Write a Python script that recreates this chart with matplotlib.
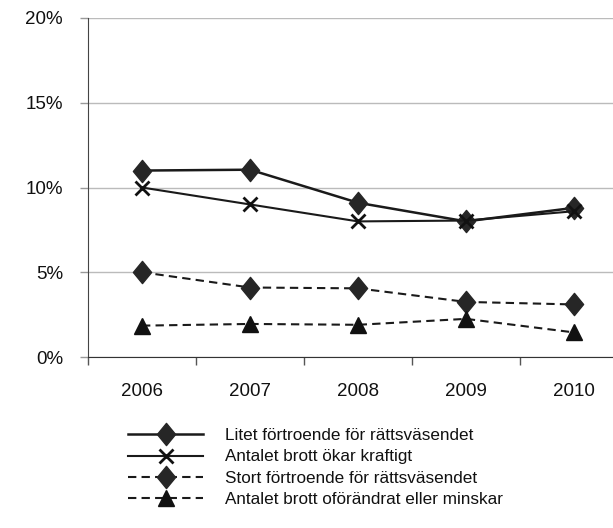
import numpy as np
import matplotlib.pyplot as plt
from matplotlib.path import Path
from matplotlib.ticker import FuncFormatter

years = ['2006', '2007', '2008', '2009', '2010']
litet = [11.0, 11.05, 9.1, 8.0, 8.8]
okar = [10.0, 9.0, 8.0, 8.05, 8.6]
stort = [5.0, 4.1, 4.05, 3.25, 3.1]
oforandrat = [1.85, 1.95, 1.9, 2.25, 1.45]
labels = ['Litet förtroende för rättsväsendet',
          'Antalet brott ökar kraftigt',
          'Stort förtroende för rättsväsendet',
          'Antalet brott oförändrat eller minskar']

plt.rcParams['font.family'] = ['Liberation Sans', 'DejaVu Sans']

# slightly tall diamond like the original
diamond = Path([(0, 1), (0.82, 0), (0, -1), (-0.82, 0), (0, 1)],
               [Path.MOVETO, Path.LINETO, Path.LINETO, Path.LINETO, Path.CLOSEPOLY])

fig = plt.figure(figsize=(6.13, 5.28), dpi=100)
ax = fig.add_axes([88/613, 1-357/528, 540/613, 339/528])

x = np.arange(len(years))
line_col = '#1a1a1a'
mark_col = '#262626'
dash = (0, (4, 2.5))

ax.plot(x, litet, color=line_col, lw=1.8, marker=diamond, ms=16, mfc=mark_col, mec=mark_col, label=labels[0])
ax.plot(x, okar, color=line_col, lw=1.5, marker='x', ms=9.5, mew=2, mec='#111111', label=labels[1])
ax.plot(x, stort, color=line_col, lw=1.5, ls=dash, marker=diamond, ms=16, mfc=mark_col, mec=mark_col, label=labels[2])
ax.plot(x, oforandrat, color=line_col, lw=1.5, ls=dash, marker='^', ms=11, mfc='#111111', mec='#111111', label=labels[3])

ax.set_xlim(-0.5, 4.5)
ax.set_ylim(0, 20)
ax.set_yticks([0, 5, 10, 15, 20])
ax.yaxis.set_major_formatter(FuncFormatter(lambda v, p: '%d%%' % v))
ax.set_xticks(x)
ax.set_xticklabels(years)
ax.set_xticks(np.arange(-0.5, 5, 1), minor=True)
ax.tick_params(axis='x', which='major', length=0, pad=19, labelsize=13.5, labelcolor='#111111')
ax.tick_params(axis='x', which='minor', length=6, width=1, color='#555555', direction='out')
ax.tick_params(axis='y', length=6, width=1, color='#999999', pad=12, labelsize=13.5, labelcolor='#111111')
ax.grid(axis='y', color='#bbbbbb', lw=1)
ax.set_axisbelow(True)
ax.spines['top'].set_visible(False)
ax.spines['right'].set_visible(False)
ax.spines['left'].set_color('#444444')
ax.spines['bottom'].set_color('#333333')

leg = fig.legend(loc='upper left', bbox_to_anchor=(128/613, 1-428/528), frameon=False,
                 fontsize=12.3, handlelength=4.4, labelspacing=0.38, handletextpad=1.3,
                 borderaxespad=0, borderpad=0, labelcolor='#111111')

plt.savefig('out.png', dpi=100)
